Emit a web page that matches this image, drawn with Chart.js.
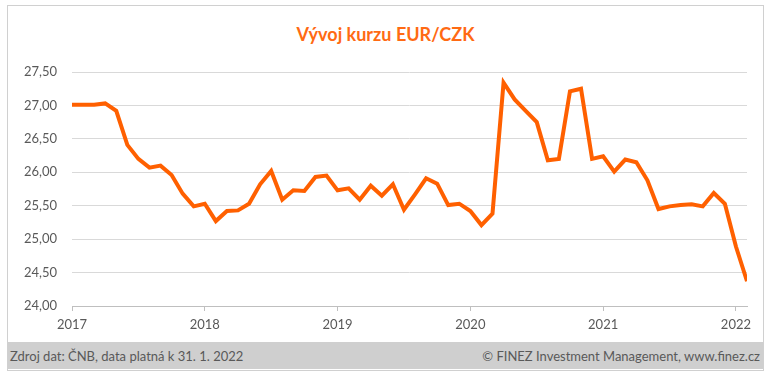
<!DOCTYPE html>
<html>
<head>
<meta charset="utf-8">
<script src="https://cdn.jsdelivr.net/npm/chart.js@4/dist/chart.umd.min.js"></script>
<style>
  html, body { margin: 0; padding: 0; background: #fff; }
  #wrap { position: relative; width: 771px; height: 376px; overflow: hidden; }
  #frame { position: absolute; left: 7px; top: 5px; width: 755px; height: 364px; border: 1px solid #d0d0d0; box-sizing: content-box; }
  #footer { position: absolute; left: 8px; top: 342px; width: 755px; height: 27px; background: #cfcfcf; font-family: "Lato", "Open Sans", sans-serif; font-size: 13px; color: #595959; }
  #footer .l { position: absolute; left: 2px; top: 6px; }
  #footer .r { position: absolute; right: 3px; top: 6px; }
  #title { position: absolute; left: 0; width: 771px; top: 23px; text-align: center; font-family: "Lato", "Open Sans", sans-serif; font-weight: bold; font-size: 18px; color: #ff6a13; }
  canvas { position: absolute; left: 0; top: 0; }
</style>
</head>
<body>
<div id="wrap">
  <div id="frame"></div>
  <div id="title">Vývoj kurzu EUR/CZK</div>
  <div id="footer"><span class="l">Zdroj dat: ČNB, data platná k 31. 1. 2022</span><span class="r">© FINEZ Investment Management, www.finez.cz</span></div>
  <canvas id="c" width="771" height="376"></canvas>
</div>
<script>
// Monthly EUR/CZK values, Jan 2017 .. Feb 2022
const startYear = 2017;
const months = [];
for (let y = 2017; y <= 2022; y++) for (let m = 1; m <= 12; m++) months.push(y + '-' + String(m).padStart(2, '0'));
const eurCzk = [
  27.01, 27.01, 27.01, 27.03, 26.92, 26.41, 26.20, 26.07, 26.10, 25.96, 25.68, 25.49,
  25.53, 25.27, 25.42, 25.43, 25.53, 25.82, 26.02, 25.59, 25.73, 25.72, 25.93, 25.95,
  25.73, 25.76, 25.59, 25.80, 25.65, 25.82, 25.44, 25.67, 25.91, 25.83, 25.51, 25.53,
  25.42, 25.21, 25.38, 27.34, 27.09, 26.92, 26.75, 26.18, 26.20, 27.21, 27.25, 26.20,
  26.24, 26.01, 26.19, 26.15, 25.88, 25.45, 25.49, 25.51, 25.52, 25.49, 25.69, 25.53,
  24.89, 24.37
];
const categories = months.slice(0, eurCzk.length);
const yTicks = [24.0, 24.5, 25.0, 25.5, 26.0, 26.5, 27.0, 27.5];

const points = eurCzk.map((v, i) => ({ x: i, y: v }));
const fontFam = '"Lato", "Open Sans", sans-serif';

new Chart(document.getElementById('c'), {
  type: 'line',
  data: {
    datasets: [{
      label: 'EUR/CZK',
      data: points,
      borderColor: '#ff6000',
      borderWidth: 4,
      pointRadius: 0,
      tension: 0,
      fill: false
    }]
  },
  options: {
    responsive: false,
    animation: false,
    layout: { padding: { left: 0, top: 72, right: 24, bottom: 40 } },
    plugins: { legend: { display: false }, tooltip: { enabled: false }, title: { display: false } },
    scales: {
      x: {
        type: 'linear',
        min: 0,
        max: categories.length - 1,
        afterFit: s => { s.height = 30; },
        border: { display: true, color: '#bfbfbf', width: 1 },
        grid: { drawOnChartArea: false, drawTicks: true, tickLength: 5, color: '#bfbfbf' },
        ticks: {
          stepSize: 12,
          includeBounds: false,
          padding: 6,
          color: '#595959',
          font: { family: fontFam, size: 13 },
          callback: v => categories[v] ? categories[v].slice(0, 4) : ''
        }
      },
      y: {
        min: yTicks[0],
        max: yTicks[yTicks.length - 1],
        afterFit: s => { s.width = 72; },
        afterBuildTicks: s => { s.ticks = yTicks.map(v => ({ value: v })); },
        border: { display: false },
        grid: { color: '#d9d9d9', drawTicks: false, lineWidth: 1 },
        ticks: {
          padding: 15,
          color: '#595959',
          font: { family: fontFam, size: 13 },
          callback: v => v.toFixed(2).replace('.', ',')
        }
      }
    }
  }
});
</script>
</body>
</html>
